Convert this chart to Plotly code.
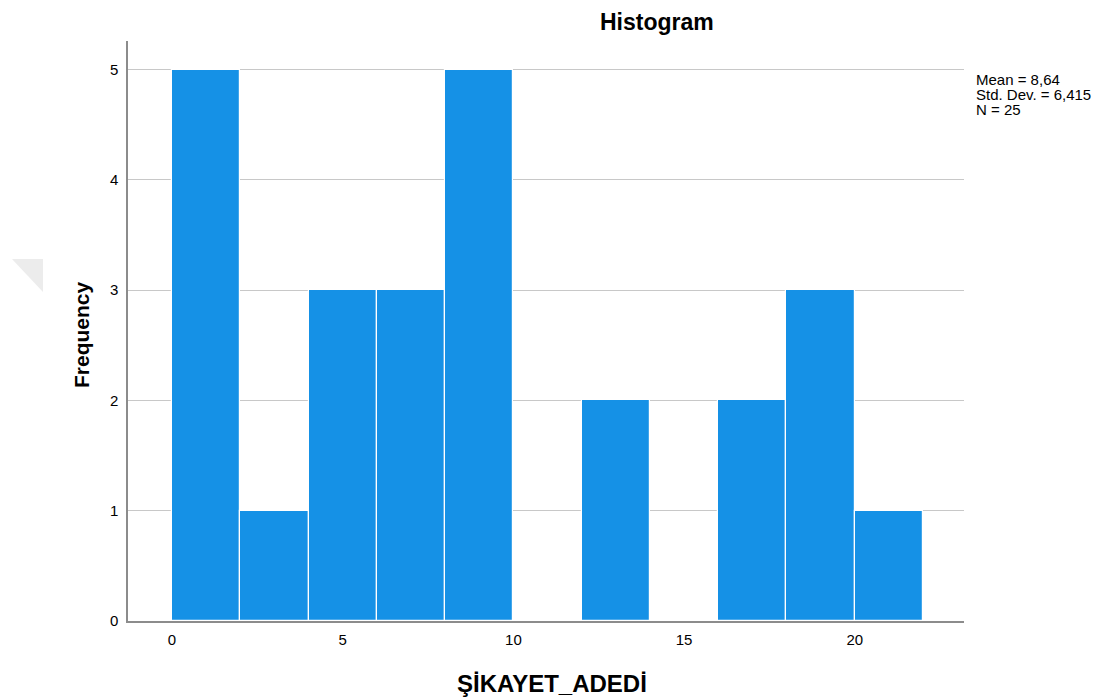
import plotly.graph_objects as go

bin_starts = [0, 2, 4, 6, 8, 10, 12, 14, 16, 18, 20]
counts = [5, 1, 3, 3, 5, 0, 2, 0, 2, 3, 1]
bin_width = 2
x_ticks = [0, 5, 10, 15, 20]
y_ticks = [0, 1, 2, 3, 4, 5]
stats_lines = ["Mean = 8,64", "Std. Dev. = 6,415", "N = 25"]

centers = [s + bin_width / 2 for s in bin_starts]

fig = go.Figure()
fig.add_trace(go.Bar(
    x=centers, y=counts, width=[bin_width] * len(centers),
    marker=dict(color="#1591E6", line=dict(color="white", width=1.2)),
    showlegend=False, hoverinfo="x+y",
))

W, H = 1101, 698
L, R, T, B = 128, 1101 - 964, 41, 698 - 621
pw, ph = W - L - R, H - T - B


def px(x):
    return (x - L) / pw


def py(y):
    return (H - B - y) / ph


annotations = [
    dict(text="<b>Histogram</b>", x=px(657), y=py(22), font=dict(size=23),
         xanchor="center", yanchor="middle"),
    dict(text="<b>Frequency</b>", x=px(81), y=py(335), font=dict(size=21),
         textangle=-90, xanchor="center", yanchor="middle"),
    dict(text="<b>ŞİKAYET_ADEDİ</b>", x=px(552), y=py(683), font=dict(size=24),
         xanchor="center", yanchor="middle"),
]
for i, line in enumerate(stats_lines):
    annotations.append(dict(text=line, x=px(974), y=py(80 + 15 * i),
                            font=dict(size=15), xanchor="left",
                            yanchor="middle", align="left"))
for a in annotations:
    a.update(xref="paper", yref="paper", showarrow=False)

fig.update_layout(
    width=W, height=H,
    margin=dict(l=L, r=R, t=T, b=B),
    paper_bgcolor="white", plot_bgcolor="white",
    bargap=0,
    font=dict(family="Liberation Sans, Arial", color="#000000", size=15),
    xaxis=dict(
        range=[-1.29, 23.2], tickvals=x_ticks, showgrid=False, zeroline=False,
        showline=True, linecolor="#8c8c8c", linewidth=1.5, ticks="",
        tickfont=dict(size=15), ticklabelstandoff=4,
    ),
    yaxis=dict(
        range=[0, 5.26], tickvals=y_ticks, showgrid=True, gridcolor="#c8c8c8",
        gridwidth=1.2, zeroline=False, showline=True, linecolor="#8c8c8c",
        linewidth=1.5, ticks="", tickfont=dict(size=15), ticklabelstandoff=5,
    ),
    shapes=[dict(
        type="path", xref="paper", yref="paper",
        path="M {} {} L {} {} L {} {} Z".format(
            px(12), py(259), px(43), py(259), px(43), py(292)),
        fillcolor="#ececec", line=dict(width=0), layer="below",
    )],
    annotations=annotations,
)

fig.write_html("out.html", config={"displayModeBar": False},
               post_script="document.body.style.margin='0';")
